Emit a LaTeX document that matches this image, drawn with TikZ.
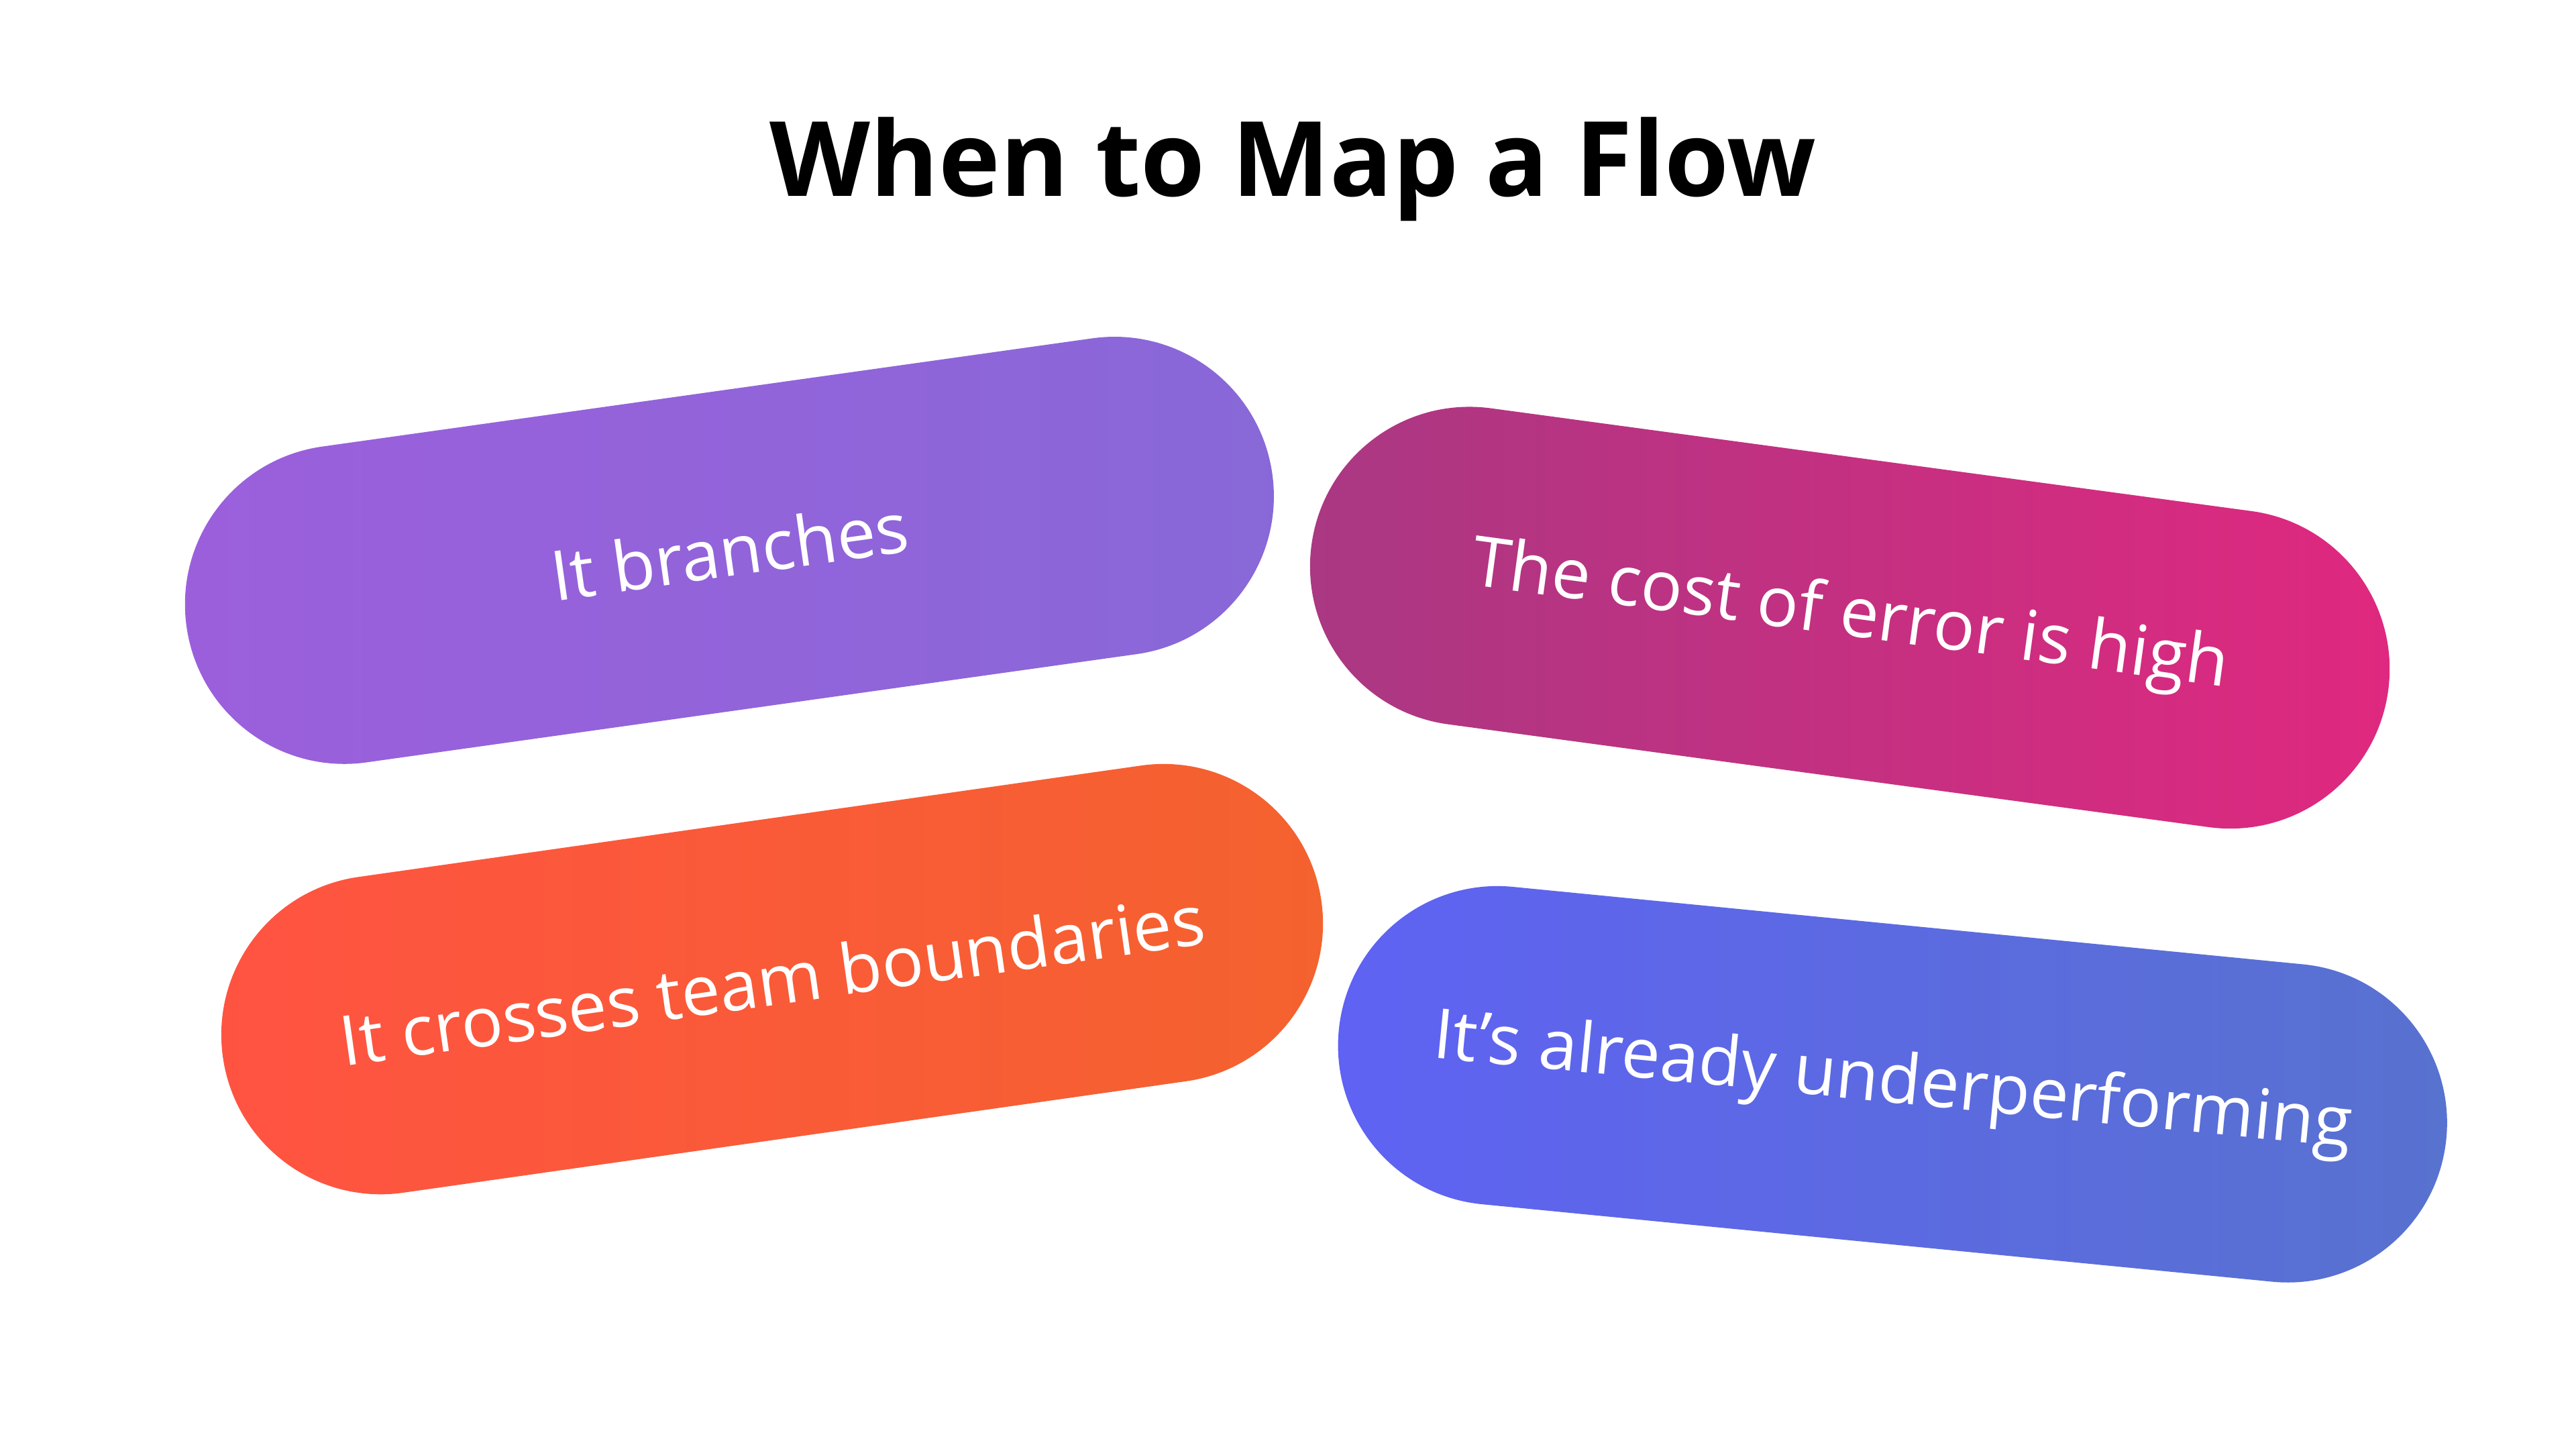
\documentclass[tikz,border=0pt]{standalone}
\usepackage{fontspec}
\setmainfont{Open Sans}
\usetikzlibrary{positioning}
\definecolor{purpA}{HTML}{9C5FDC}
\definecolor{purpB}{HTML}{8868D8}
\definecolor{magA}{HTML}{A93883}
\definecolor{magB}{HTML}{E0287F}
\definecolor{orgA}{HTML}{FF5342}
\definecolor{orgB}{HTML}{F4622E}
\definecolor{bluA}{HTML}{5F62F3}
\definecolor{bluB}{HTML}{5872CF}
\tikzset{
pill/.style 2 args={
  rectangle,
  minimum height=1.94cm,
  rounded corners=0.97cm,
  left color=#1,
  right color=#2,
  draw=none,
  text=white,
  font=\fontsize{12}{14}\selectfont
  }
}
\begin{document}
\begin{tikzpicture}[x=0.01cm,y=-0.01cm]
\useasboundingbox[fill=white] (0,0) rectangle (1568,882);
\node (title) at (787,103) {\fontsize{18}{22}\selectfont\bfseries When to Map a Flow};

\node[pill={purpA}{purpB},minimum width=6.67cm,rotate=8] (branch) at (444,335) {It branches};
\node[pill={magA}{magB},minimum width=6.61cm,rotate=-7.7] (cost) at (1126,376) {The cost of error is high};
\node[pill={orgA}{orgB},minimum width=6.75cm,rotate=8.1] (team) at (470,596) {It crosses team boundaries};
\node[pill={bluA}{bluB},minimum width=6.77cm,rotate=-5.6] (under) at (1152,660) {It’s already underperforming};
\end{tikzpicture}
\end{document}
